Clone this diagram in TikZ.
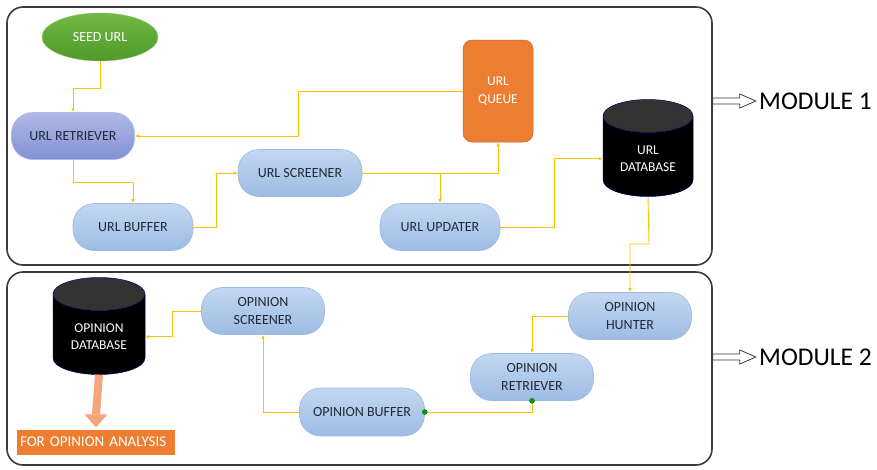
\documentclass[tikz,border=0pt]{standalone}
\usepackage{fontspec}
\setmainfont{Carlito}
\usetikzlibrary{shapes.geometric,arrows.meta,calc}
\definecolor{link}{HTML}{FFC000}
\definecolor{pilltop}{HTML}{C3D7F0}
\definecolor{pillbot}{HTML}{9DBCE4}
\definecolor{pillborder}{HTML}{9CB9E0}
\definecolor{rettop}{HTML}{B0B9E6}
\definecolor{retbot}{HTML}{8191D4}
\definecolor{orng}{HTML}{ED7D31}
\definecolor{orarrow}{HTML}{F4A57A}
\definecolor{seedtop}{HTML}{72B844}
\definecolor{seedbot}{HTML}{4E9A2A}
\definecolor{txt}{HTML}{222A36}
\definecolor{frame}{HTML}{3A3A3A}
\tikzset{
  pill/.style={rectangle, rounded corners=21pt, minimum width=123pt, minimum height=47pt,
    top color=pilltop, bottom color=pillbot, draw=pillborder, line width=0.6pt,
    text=txt, font=\fontsize{14}{18}\selectfont, align=center, inner sep=2pt},
  dbase/.style={cylinder, shape border rotate=90, aspect=0.55, minimum width=90pt, minimum height=97pt,
    cylinder uses custom fill, cylinder body fill=black, cylinder end fill=black!80,
    draw=blue!40!black, line width=0.5pt, text=white, anchor=shape center,
    font=\fontsize{13.5}{17}\selectfont, align=center, inner sep=2pt},
  conn/.style={draw=link, line width=0.9pt, -{Latex[length=4pt,width=3.5pt]}},
  plainconn/.style={draw=link, line width=0.9pt},
  modbox/.style={draw=frame, line width=1.6pt, rounded corners=16pt, rectangle},
  modlabel/.style={font=\fontsize{25.5}{30}\selectfont, text=black, anchor=west, inner sep=0pt},
  modarrow/.style={draw=frame, line width=0.8pt, fill=white},
  gdot/.style={circle, fill=green!65!black, draw=green!40!black, inner sep=0pt, minimum size=5pt},
}
\begin{document}
\begin{tikzpicture}[x=1pt,y=-1pt]
\useasboundingbox (0,0) rectangle (877,469);

% module frames
\node[modbox, minimum width=705pt, minimum height=258pt] (m1) at (359.5,136) {};
\node[modbox, minimum width=705pt, minimum height=193pt] (m2) at (359.5,368.5) {};

% module labels and hollow arrows
\node[modlabel] (l1) at (759,101) {MODULE 1};
\node[modlabel] (l2) at (759,357) {MODULE 2};
\draw[modarrow] (m1.east |- l1.west) ++(0,-3) -- ++(27,0) -- ++(0,-4) -- ++(16,7) -- ++(-16,7) -- ++(0,-4) -- ++(-27,0) -- cycle;
\draw[modarrow] (m2.east |- l2.west) ++(0,-3) -- ++(27,0) -- ++(0,-4) -- ++(16,7) -- ++(-16,7) -- ++(0,-4) -- ++(-27,0) -- cycle;

% module 1 nodes
\node[ellipse, minimum width=116pt, minimum height=48pt, top color=seedtop, bottom color=seedbot,
      draw=seedtop!80!white, text=white, font=\fontsize{14}{17}\selectfont] (seed) at (100,37) {SEED URL};
\node[pill, top color=rettop, bottom color=retbot, draw=rettop] (ret) at (73,136) {URL RETRIEVER};
\node[pill, minimum width=120pt] (buf) at (133,227) {URL BUFFER};
\node[pill, minimum width=124pt] (scr) at (300,173) {URL SCREENER};
\node[pill, minimum width=120pt] (upd) at (440,227) {URL UPDATER};
\node[rectangle, rounded corners=9pt, minimum width=70pt, minimum height=102pt, fill=orng,
      draw=orng!85!black, line width=0.5pt, text=white, font=\fontsize{13.5}{18}\selectfont, align=center] (queue) at (498,91) {URL\\QUEUE};
\node[dbase] (udb) at (648,148) {URL\\DATABASE};

% module 2 nodes
\node[dbase, minimum width=92pt] (odb) at (99,326) {OPINION\\DATABASE};
\node[pill] (oscr) at (263,311) {OPINION\\SCREENER};
\node[pill] (hunt) at (630,316) {OPINION\\HUNTER};
\node[pill] (oret) at (532,377) {OPINION\\RETRIEVER};
\node[pill, minimum width=125pt, minimum height=48pt] (obuf) at (362,412) {OPINION BUFFER};
\node[rectangle, minimum width=158pt, minimum height=25pt, fill=orng, text=white,
      font=\fontsize{15}{18}\selectfont, inner sep=3pt, text width=152pt, align=left] (fa) at (96,442) {FOR OPINION ANALYSIS};

% connectors module 1
\draw[conn] (seed.south) -- ++(0,27) -| (ret.north);
\draw[conn] (queue.west) -- (298,91) |- (ret.east);
\draw[conn] (ret.south) -- (73,182) -| (buf.north);
\draw[conn] (buf.east) -- (216,227) |- (scr.west);
\draw[conn] (scr.east) -| (queue.south);
\coordinate (br) at (upd.north |- scr.east);
\draw[conn] (br) -- (upd.north);
\draw[conn] (upd.east) -- (554,227) |- (udb.west);
\draw[conn] (udb.south) -- (649,244) -| (hunt.north);

% connectors module 2
\draw[conn] (hunt.west) -| (oret.north);
\draw[plainconn] (obuf.east) -| (oret.south);
\node[gdot] at (obuf.east) {};
\node[gdot] at (oret.south) {};
\draw[conn] (obuf.west) -| (oscr.south);
\draw[conn] (oscr.west) -- (172,311) |- (odb.east);

% thick orange arrow
\coordinate (tipbase) at ($(fa.north)+(0,-15)$);
\draw[draw=orarrow, line width=8pt] (odb.south) -- (tipbase);
\fill[orarrow] ($(tipbase)+(-11.5,0)$) -- ($(tipbase)+(11.5,0)$) -- ($(fa.north)+(0,-2)$) -- cycle;
\end{tikzpicture}
\end{document}
